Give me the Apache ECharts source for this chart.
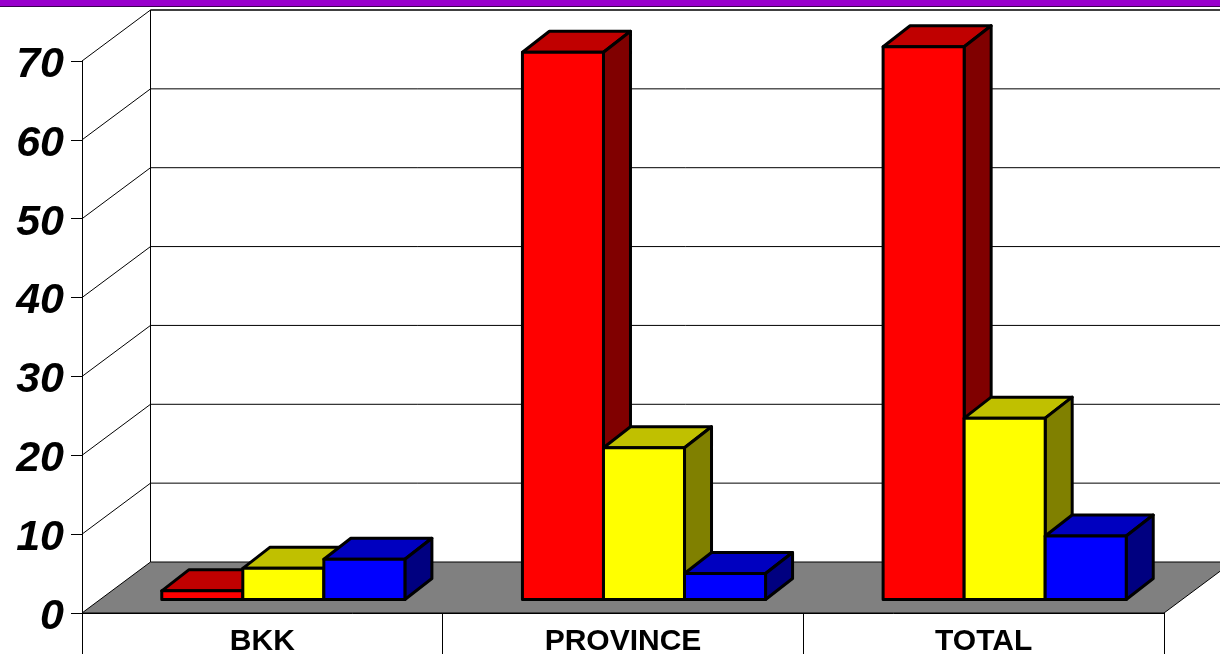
<!DOCTYPE html>
<html>
<head>
<meta charset="utf-8">
<style>html,body{margin:0;padding:0;background:#fff}#c{width:1220px;height:654px}</style>
<script src="https://cdn.jsdelivr.net/npm/echarts@6/dist/echarts.min.js"></script>
</head>
<body>
<div id="c"></div>
<script>
const categories = ['BKK', 'PROVINCE', 'TOTAL'];
const redValues = [1.1, 69.4, 70.1];
const yellowValues = [3.95, 19.25, 23];
const blueValues = [5.1, 3.3, 8.05];
const yTicks = [0, 10, 20, 30, 40, 50, 60, 70];

const WALL_DX = 68.5, WALL_DY = -51;        // oblique floor depth
const BAR_DX = 27, BAR_DY = -21;            // oblique bar depth
const SHIFT_X = 21, SHIFT_Y = -13.5;        // bars sit inside the floor
const BAR_RATIO = 0.2247;
const FONT = '"Liberation Sans", Arial, sans-serif';

const chart = echarts.init(document.getElementById('c'), null, { renderer: 'canvas' });

function poly(points, fill, lw) {
  return {
    type: 'polygon',
    shape: { points },
    style: { fill, stroke: '#000', lineWidth: lw, lineJoin: 'round' }
  };
}
function seg(x1, y1, x2, y2, w) {
  return {
    type: 'line',
    shape: { x1, y1, x2, y2 },
    style: { stroke: '#000', lineWidth: w, fill: null }
  };
}

function wallRender(params, api) {
  const v = api.value(0);
  const pLeft = api.coord([0, v]);
  const halfCat = api.size([1, 0])[0] / 2;
  const x0 = pLeft[0] - halfCat;
  const y0 = pLeft[1];
  const bx = x0 + WALL_DX, by = y0 + WALL_DY;
  const w = x0 + halfCat * 6;
  const children = [];
  if (v === 0) {
    children.push(poly([[x0, y0], [bx, by], [w + WALL_DX, by], [w, y0]], '#808080', 1));
    const top = api.coord([0, yTicks[yTicks.length - 1]])[1] + WALL_DY;
    children.push(seg(bx, by, bx, top, 1));
  } else {
    children.push(seg(x0, y0, bx, by, 1));
    children.push(seg(bx, by, 1220, by, v === 70 ? 1.5 : 1));
  }
  return { type: 'group', children };
}

function barRender(slot, front, top, side) {
  return function (params, api) {
    const i = api.value(0);
    const p = api.coord([i, api.value(1)]);
    const base = api.coord([i, 0])[1] + SHIFT_Y;
    const bw = api.size([1, 0])[0] * BAR_RATIO;
    const yt = p[1] + SHIFT_Y;
    const xl = p[0] + SHIFT_X + (slot - 1.5) * bw;
    const xr = xl + bw;
    return {
      type: 'group',
      children: [
        poly([[xl, yt], [xl + BAR_DX, yt + BAR_DY], [xr + BAR_DX, yt + BAR_DY], [xr, yt]], top, 3),
        poly([[xr, yt], [xr + BAR_DX, yt + BAR_DY], [xr + BAR_DX, base + BAR_DY], [xr, base]], side, 3),
        poly([[xl, yt], [xr, yt], [xr, base], [xl, base]], front, 3)
      ]
    };
  };
}

function barData(values) {
  return values.map((v, i) => [i, v]);
}

chart.setOption({
  animation: false,
  backgroundColor: '#fff',
  graphic: [
    { type: 'rect', z: 50, shape: { x: 0, y: 0, width: 1220, height: 6 }, style: { fill: '#9900cc' } },
    { type: 'rect', z: 50, shape: { x: 0, y: 6, width: 1220, height: 1 }, style: { fill: '#3a0050' } }
  ],
  grid: { left: 82, top: 61, width: 1082, height: 552, containLabel: false, outerBoundsMode: 'none' },
  xAxis: {
    type: 'category',
    data: categories,
    boundaryGap: true,
    axisLine: { lineStyle: { color: '#000', width: 1 } },
    axisTick: { show: true, alignWithLabel: false, length: 42, lineStyle: { color: '#000', width: 1 } },
    axisLabel: { color: '#000', fontFamily: FONT, fontWeight: 'bold', fontSize: 30, margin: 14, interval: 0 },
    splitLine: { show: false },
    z: 3
  },
  yAxis: {
    type: 'value',
    min: 0,
    max: 70,
    interval: 10,
    axisLine: { show: true, lineStyle: { color: '#000', width: 1 } },
    axisTick: { show: true, length: 11, lineStyle: { color: '#000', width: 1 } },
    axisLabel: { color: '#000', fontFamily: FONT, fontWeight: 'bold', fontStyle: 'italic', fontSize: 43, margin: 18, verticalAlign: 'top', lineHeight: 8 },
    splitLine: { show: false },
    z: 3
  },
  series: [
    {
      type: 'custom', name: 'walls', clip: false, z: 1, silent: true,
      coordinateSystem: 'cartesian2d',
      encode: { x: 1, y: 0 },
      data: yTicks.map(v => [v, 0]),
      renderItem: wallRender
    },
    { type: 'custom', name: 'Red', clip: false, z: 5, coordinateSystem: 'cartesian2d', encode: { x: 0, y: 1 },
      data: barData(redValues), renderItem: barRender(0, '#ff0000', '#c00000', '#800000') },
    { type: 'custom', name: 'Yellow', clip: false, z: 6, coordinateSystem: 'cartesian2d', encode: { x: 0, y: 1 },
      data: barData(yellowValues), renderItem: barRender(1, '#ffff00', '#c0c000', '#808000') },
    { type: 'custom', name: 'Blue', clip: false, z: 7, coordinateSystem: 'cartesian2d', encode: { x: 0, y: 1 },
      data: barData(blueValues), renderItem: barRender(2, '#0000ff', '#0000c0', '#000080') }
  ]
});
</script>
</body>
</html>
